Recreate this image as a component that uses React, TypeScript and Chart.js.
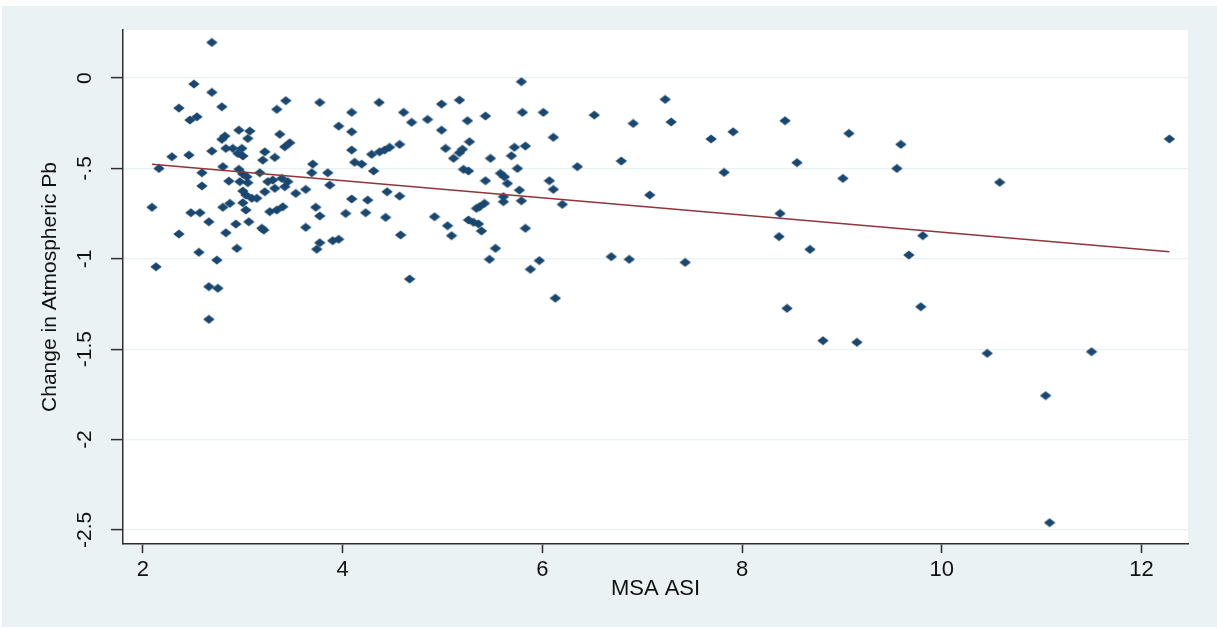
import React, { useEffect, useRef } from 'react';
import { Chart, registerables } from 'chart.js';

Chart.register(...registerables);

// MSA ASI (x) values of each observation
const asiX = [
  2.69, 2.51, 2.69, 2.36, 2.79, 2.47, 2.54, 3.43, 3.34, 3.77,
  3.96, 2.96, 3.07, 2.82, 2.79, 3.05, 3.37, 3.47, 3.42, 2.29,
  2.46, 2.69, 2.83, 2.90, 2.99, 2.95, 3.00, 3.22, 3.20, 3.32,
  2.16, 2.80, 2.59, 2.96, 3.00, 3.04, 3.17, 2.86, 2.97, 3.05,
  3.25, 3.30, 3.39, 3.45, 3.42, 3.70, 3.69, 3.85, 3.87, 2.59,
  3.53, 3.63, 3.00, 3.03, 3.22, 3.32, 3.09, 3.14, 2.09, 2.80,
  2.87, 3.00, 3.03, 3.27, 3.34, 3.40, 3.73, 3.77, 2.48, 2.57,
  2.66, 3.06, 2.93, 2.83, 3.19, 3.21, 2.36, 3.63, 3.77, 3.74,
  3.90, 3.96, 2.94, 2.56, 2.74, 2.13, 2.66, 2.75, 2.66,
  4.365, 4.09, 4.61, 4.69, 4.85, 4.99, 5.17, 5.79, 5.80, 6.01,
  6.52, 5.43, 5.25, 4.09, 4.99, 6.11, 5.27, 5.20, 5.17, 5.11,
  5.03, 4.09, 4.29, 4.37, 4.42, 4.47, 4.57, 4.12, 4.19, 4.31,
  5.48, 5.69, 5.72, 5.83, 5.75, 5.21, 5.26, 5.43, 5.58, 5.62,
  5.65, 6.07, 6.11, 6.35, 5.77, 5.79, 5.61, 5.61, 6.20, 4.445,
  4.57, 4.09, 4.25, 4.03, 4.23, 4.43, 4.58, 4.67, 4.92, 5.05,
  5.09, 5.37, 5.42, 5.34, 5.26, 5.31, 5.36, 5.39, 5.53, 5.47,
  5.83, 5.97, 5.88, 6.13,
  6.69, 6.87, 6.79, 7.23, 7.29, 6.91, 7.075, 7.43, 7.69, 7.91,
  7.82, 8.43, 8.55, 8.38, 8.37, 8.68, 8.45, 8.81, 9.15, 9.07,
  9.01, 9.59, 9.55, 9.81, 9.67, 9.79,
  10.58, 12.28, 10.455, 11.50, 11.04, 11.08,
];

// Change in Atmospheric Pb (y) values, same order as asiX
const pbChange = [
  0.197, -0.033, -0.079, -0.166, -0.159, -0.232, -0.214, -0.125, -0.173, -0.135,
  -0.266, -0.288, -0.293, -0.321, -0.339, -0.334, -0.311, -0.358, -0.38, -0.435,
  -0.426, -0.404, -0.389, -0.389, -0.389, -0.417, -0.431, -0.408, -0.454, -0.439,
  -0.50, -0.49, -0.524, -0.505, -0.531, -0.546, -0.524, -0.57, -0.573, -0.579,
  -0.573, -0.564, -0.555, -0.573, -0.601, -0.476, -0.524, -0.524, -0.592, -0.597,
  -0.638, -0.616, -0.625, -0.647, -0.629, -0.61, -0.665, -0.665, -0.715, -0.715,
  -0.693, -0.69, -0.73, -0.739, -0.73, -0.712, -0.715, -0.763, -0.745, -0.745,
  -0.795, -0.795, -0.808, -0.856, -0.831, -0.841, -0.863, -0.826, -0.911, -0.947,
  -0.90, -0.892, -0.942, -0.964, -1.007, -1.044, -1.154, -1.163, -1.335,
  -0.135, -0.19, -0.19, -0.245, -0.229, -0.144, -0.122, -0.02, -0.19, -0.19,
  -0.205, -0.21, -0.236, -0.297, -0.288, -0.328, -0.352, -0.394, -0.413, -0.444,
  -0.389, -0.398, -0.422, -0.408, -0.398, -0.383, -0.367, -0.466, -0.476, -0.514,
  -0.444, -0.43, -0.383, -0.376, -0.50, -0.505, -0.514, -0.568, -0.527, -0.546,
  -0.583, -0.568, -0.616, -0.49, -0.62, -0.679, -0.656, -0.684, -0.699, -0.629,
  -0.653, -0.669, -0.675, -0.749, -0.745, -0.771, -0.868, -1.112, -0.767, -0.817,
  -0.872, -0.712, -0.693, -0.721, -0.785, -0.798, -0.807, -0.846, -0.942, -1.003,
  -0.831, -1.01, -1.058, -1.218,
  -0.988, -1.003, -0.459, -0.118, -0.243, -0.251, -0.647, -1.02, -0.337, -0.297,
  -0.522, -0.236, -0.468, -0.749, -0.877, -0.948, -1.274, -1.453, -1.462, -0.306,
  -0.555, -0.367, -0.50, -0.872, -0.979, -1.265,
  -0.577, -0.337, -1.523, -1.514, -1.757, -2.46,
];

// Fitted line end points
const fitX = [2.09, 12.28];
const fitY = [-0.477, -0.961];

const xTicks = [2, 4, 6, 8, 10, 12];
const yTicks = [0, -0.5, -1, -1.5, -2, -2.5];
const yTickLabels = ['0', '-.5', '-1', '-1.5', '-2', '-2.5'];
const xTitle = 'MSA ASI';
const yTitle = 'Change in Atmospheric Pb';

const FONT = '"Liberation Sans", Arial, sans-serif';
const AXIS = '#2e2e2e';
const BG = '#EAF2F3';

export default function App() {
  const ref = useRef<HTMLCanvasElement | null>(null);

  useEffect(() => {
    const canvas = ref.current;
    if (!canvas) return;

    const marker = document.createElement('canvas');
    marker.width = 12;
    marker.height = 10;
    const mc = marker.getContext('2d');
    if (mc) {
      mc.fillStyle = '#1A476F';
      mc.beginPath();
      mc.moveTo(6, 0.5);
      mc.lineTo(11.7, 5);
      mc.lineTo(6, 9.5);
      mc.lineTo(0.3, 5);
      mc.closePath();
      mc.fill();
    }

    const whitePlot = {
      id: 'whitePlot',
      beforeDraw(chart: any) {
        const { ctx, chartArea } = chart;
        ctx.save();
        ctx.fillStyle = '#ffffff';
        ctx.fillRect(chartArea.left, chartArea.top, chartArea.right - chartArea.left, chartArea.bottom - chartArea.top);
        ctx.restore();
      },
    };

    const chart = new Chart(canvas, {
      type: 'scatter',
      data: {
        datasets: [
          {
            type: 'line',
            data: fitX.map((x, i) => ({ x, y: fitY[i] })),
            borderColor: '#90353B',
            borderWidth: 1.5,
            pointRadius: 0,
            fill: false,
            showLine: true,
          } as any,
          {
            data: asiX.map((x, i) => ({ x, y: pbChange[i] })),
            pointStyle: marker as any,
            pointRadius: 5,
            backgroundColor: '#1A476F',
            borderColor: '#1A476F',
          },
        ],
      },
      options: {
        responsive: false,
        animation: false,
        devicePixelRatio: 1,
        layout: { padding: { top: 30, right: 29, left: 0, bottom: 0 } },
        plugins: { legend: { display: false }, tooltip: { enabled: false } },
        scales: {
          x: {
            type: 'linear',
            min: 1.8,
            max: 12.466,
            afterBuildTicks: (s: any) => {
              s.ticks = xTicks.map((v) => ({ value: v }));
            },
            afterFit: (s: any) => {
              s.height = 85;
            },
            grid: {
              drawOnChartArea: false,
              drawTicks: true,
              tickLength: 9,
              tickColor: AXIS,
              tickWidth: 1.5,
            },
            border: { display: true, color: AXIS, width: 1.5 },
            ticks: {
              font: { family: FONT, size: 22 },
              color: '#111',
              padding: 4,
              maxRotation: 0,
              autoSkip: false,
              callback: (v: any) => String(v),
            },
            title: {
              display: true,
              text: xTitle,
              color: '#111',
              font: { family: FONT, size: 22, lineHeight: 1.2 },
              padding: { top: 0, bottom: 27 },
            },
          },
          y: {
            type: 'linear',
            min: -2.578,
            max: 0.266,
            afterBuildTicks: (s: any) => {
              s.ticks = yTicks.map((v) => ({ value: v }));
            },
            afterFit: (s: any) => {
              s.width = 123;
            },
            grid: {
              color: BG,
              lineWidth: 1.2,
              drawTicks: true,
              tickLength: 12,
              tickColor: AXIS,
              tickWidth: 1.5,
            },
            border: { display: true, color: AXIS, width: 1.5 },
            ticks: {
              font: { family: FONT, size: 21 },
              color: '#111',
              padding: 8,
              minRotation: 90,
              maxRotation: 90,
              crossAlign: 'center',
              autoSkip: false,
              callback: (_v: any, i: number) => yTickLabels[i],
            },
            title: {
              display: true,
              text: yTitle,
              color: '#111',
              font: { family: FONT, size: 21, lineHeight: 1.2 },
              padding: { top: 38, bottom: 0 },
            },
          },
        },
      },
      plugins: [whitePlot],
    });

    return () => {
      chart.destroy();
    };
  }, []);

  return (
    <div style={{ position: 'absolute', left: 0, top: 0, width: 1217, height: 629, background: '#ffffff', overflow: 'hidden' }}>
      <div style={{ position: 'absolute', left: 2, top: 6, width: 1215, height: 621, background: BG }} />
      <canvas ref={ref} width={1217} height={629} style={{ position: 'absolute', left: 0, top: 0 }} />
    </div>
  );
}
